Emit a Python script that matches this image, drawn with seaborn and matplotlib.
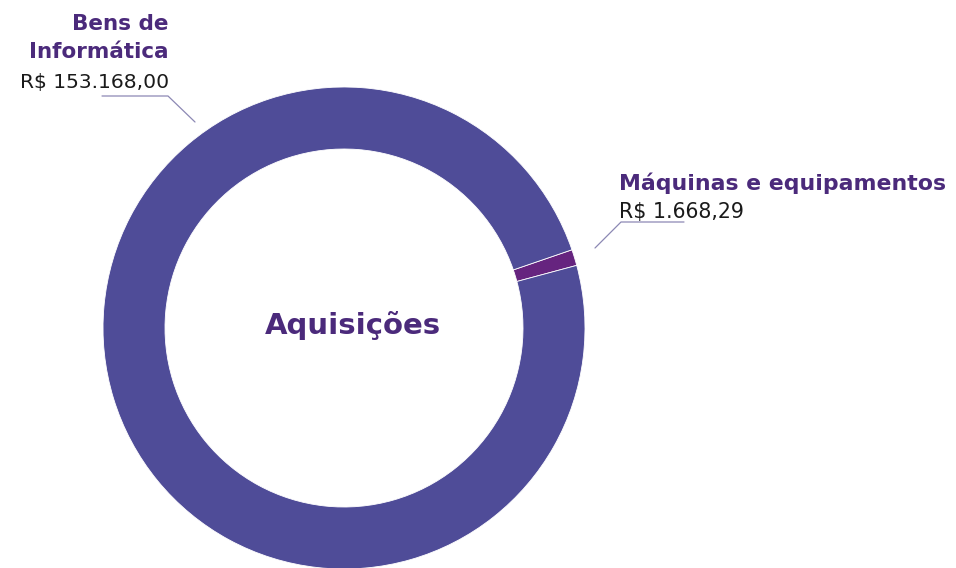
import matplotlib
matplotlib.use("Agg")
import matplotlib.pyplot as plt
import seaborn as sns

# Acquisition totals by category (R$)
categories = ["Máquinas e equipamentos", "Bens de Informática"]
values = [1668.29, 153168.00]
value_labels = ["R$ 1.668,29", "R$ 153.168,00"]
center_title = "Aquisições"

sns.set_theme(style="white")
plt.rcParams["font.family"] = ["DejaVu Sans"]

ring_colors = ["#66247F", "#4F4C98"]
label_purple = "#4B2A7B"
value_color = "#1A1A1A"
leader_color = "#8C88B4"

W, H = 956, 568
fig = plt.figure(figsize=(W / 100, H / 100), dpi=100)
ax = fig.add_axes([0, 0, 1, 1])

cx, cy = 344, H - 328
radius = 241
ring_width = 62

# place the small slice centred at about 17 degrees
small_share = values[0] / sum(values) * 360
start = 17 - small_share / 2

ax.pie(values, colors=ring_colors, startangle=start, counterclock=True,
       center=(cx, cy), radius=radius,
       wedgeprops=dict(width=ring_width, edgecolor="white", linewidth=0.6))

ax.set_xlim(0, W)
ax.set_ylim(0, H)
ax.set_aspect("equal", adjustable="box")
ax.axis("off")

# centre caption
ax.text(353, H - 334, center_title, ha="center", va="baseline",
        fontsize=21, fontweight="bold", color=label_purple)

# Bens de Informática label (top-left), split over two lines
first, second = categories[1].split(" ", 2)[:2], categories[1].split(" ", 2)[2]
ax.text(169, H - 30, " ".join(first), ha="right", va="baseline",
        fontsize=15.5, fontweight="bold", color=label_purple)
ax.text(169, H - 58, second, ha="right", va="baseline",
        fontsize=15.5, fontweight="bold", color=label_purple)
ax.text(169, H - 88, value_labels[1], ha="right", va="baseline",
        fontsize=14.6, color=value_color)
ax.plot([102, 168, 195], [H - 96, H - 96, H - 122], color=leader_color, lw=0.9)

# Máquinas e equipamentos label (right)
ax.text(619, H - 190, categories[0], ha="left", va="baseline",
        fontsize=15.8, fontweight="bold", color=label_purple)
ax.text(619, H - 218, value_labels[0], ha="left", va="baseline",
        fontsize=14.8, color=value_color)
ax.plot([684, 621, 595], [H - 222, H - 222, H - 248], color=leader_color, lw=0.9)

fig.savefig("out.png", dpi=100, facecolor="white")
